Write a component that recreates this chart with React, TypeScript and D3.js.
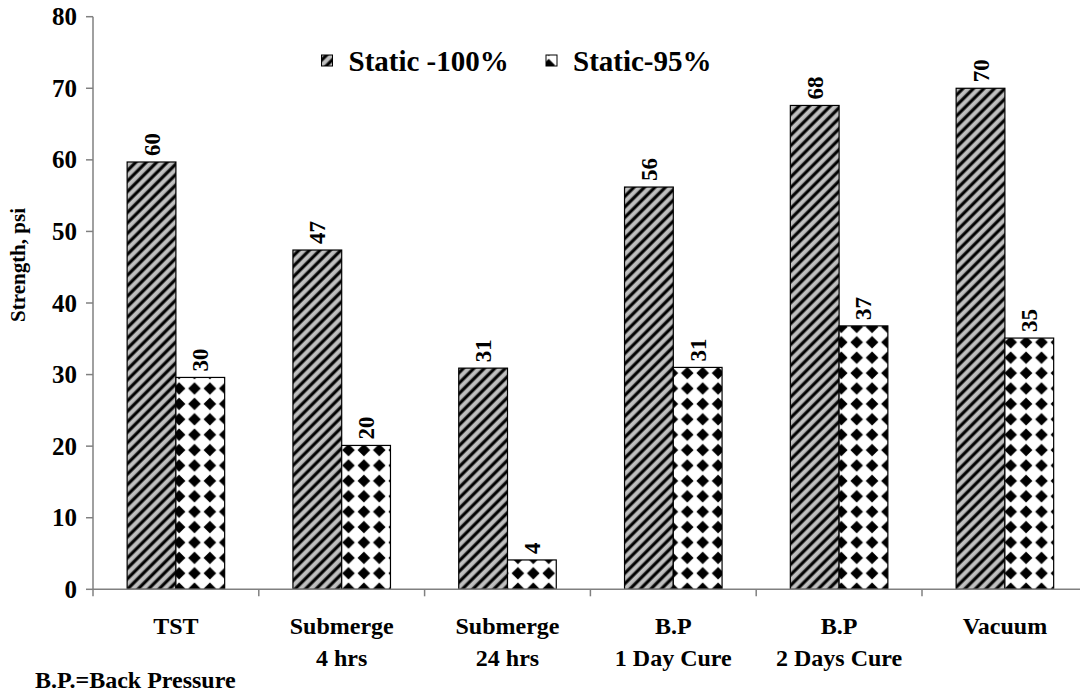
import React from "react";
import * as d3 from "d3";

const categories: string[][] = [
  ["TST"],
  ["Submerge", "4 hrs"],
  ["Submerge", "24 hrs"],
  ["B.P", "1 Day Cure"],
  ["B.P", "2 Days Cure"],
  ["Vacuum"],
];
const seriesNames = ["Static -100%", "Static-95%"];
const static100 = [59.7, 47.4, 30.9, 56.2, 67.6, 70.0];
const static95 = [29.6, 20.1, 4.1, 31.0, 36.8, 35.1];
const yTicks = [0, 10, 20, 30, 40, 50, 60, 70, 80];
const yTitle = "Strength, psi";
const footnote = "B.P.=Back Pressure";

const W = 1080;
const H = 696;
const FONT = "Liberation Serif, Times New Roman, Times, serif";
const AXIS = "#808080";

const T = (p: any) => (
  <text {...p} style={{ fontFamily: FONT, fontWeight: 700 }}>
    {p.children}
  </text>
);

export default function App() {
  const left = 93;
  const step = 165.8;
  const y = d3.scaleLinear().domain([0, 80]).range([589.3, 16.7]);
  const x0 = d3
    .scaleBand<number>()
    .domain(categories.map((_, i) => i))
    .range([left, left + step * categories.length])
    .padding(0);
  const x1 = d3
    .scaleBand<number>()
    .domain([0, 1])
    .range([0, x0.bandwidth()])
    .paddingInner(0)
    .paddingOuter(0.7);
  const series = [static100, static95];
  const fills = ["url(#hatch)", "url(#diamond)"];
  const base = y(0);
  const dp = 15.4;
  const r = 6.3;
  const hp = 7.4;

  return (
    <svg
      width={W}
      height={H}
      style={{ position: "absolute", left: 0, top: 0, background: "#fff" }}
    >
      <defs>
        <pattern
          id="hatch"
          patternUnits="userSpaceOnUse"
          width={10}
          height={hp}
          patternTransform="rotate(-45)"
        >
          <rect width={10} height={hp} fill="#c0c0c0" />
          <rect y={1.6} width={10} height={3.8} fill="#555" />
          <rect y={2.3} width={10} height={2.4} fill="#000" />
        </pattern>
        <pattern
          id="diamond"
          patternUnits="userSpaceOnUse"
          width={dp}
          height={dp}
          x={2}
          y={base - 16 - dp / 2}
        >
          <rect width={dp} height={dp} fill="#fff" />
          <path
            d={`M${dp / 2},${dp / 2 - r} L${dp / 2 + r},${dp / 2} L${dp / 2},${dp / 2 + r} L${dp / 2 - r},${dp / 2} Z`}
            fill="#000"
          />
        </pattern>
      </defs>

      {/* y axis */}
      <line x1={left} x2={left} y1={y(80)} y2={base} stroke={AXIS} strokeWidth={1.5} />
      {yTicks.map((t) => (
        <g key={t}>
          <line x1={left - 7} x2={left} y1={y(t)} y2={y(t)} stroke={AXIS} strokeWidth={1.5} />
          <T x={left - 16} y={y(t) + 8.5} textAnchor="end" fontSize={25}>
            {t}
          </T>
        </g>
      ))}
      <T transform={`translate(25,${265}) rotate(-90)`} textAnchor="middle" fontSize={21}>
        {yTitle}
      </T>

      {/* bars */}
      {categories.map((_, i) =>
        series.map((vals, s) => {
          const bx = (x0(i) as number) + (x1(s) as number);
          const bw = x1.bandwidth();
          const v = vals[i];
          return (
            <g key={`${i}-${s}`}>
              <rect
                x={bx}
                y={y(v)}
                width={bw}
                height={base - y(v)}
                fill={fills[s]}
                stroke="#000"
                strokeWidth={1.2}
              />
              <T
                transform={`translate(${bx + bw / 2 + 8},${y(v) - 6}) rotate(-90)`}
                textAnchor="start"
                fontSize={23}
              >
                {d3.format(".0f")(v)}
              </T>
            </g>
          );
        })
      )}

      {/* x axis */}
      <line x1={left} x2={left + step * categories.length} y1={base} y2={base} stroke={AXIS} strokeWidth={1.5} />
      {d3.range(categories.length + 1).map((i) => (
        <line
          key={i}
          x1={left + i * step}
          x2={left + i * step}
          y1={base}
          y2={base + 7}
          stroke={AXIS}
          strokeWidth={1.5}
        />
      ))}
      {categories.map((lines, i) => (
        <T
          key={i}
          x={(x0(i) as number) + x0.bandwidth() / 2}
          y={634}
          textAnchor="middle"
          fontSize={24}
        >
          {lines.map((l, j) => (
            <tspan key={j} x={(x0(i) as number) + x0.bandwidth() / 2} dy={j === 0 ? 0 : 32}>
              {l}
            </tspan>
          ))}
        </T>
      ))}
      <T x={35} y={688} fontSize={24}>
        {footnote}
      </T>

      {/* legend */}
      {seriesNames.map((n, s) => {
        const lx = [321.5, 546][s];
        return (
          <g key={n}>
            <rect x={lx} y={55} width={11} height={11} fill={fills[s]} stroke="#000" strokeWidth={1} />
            <T x={lx + 27} y={71} fontSize={29}>
              {n}
            </T>
          </g>
        );
      })}
    </svg>
  );
}
